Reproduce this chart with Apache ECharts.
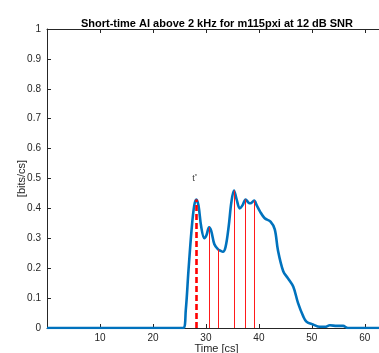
<!DOCTYPE html>
<html><head><meta charset="utf-8">
<script src="https://cdn.jsdelivr.net/npm/echarts@6/dist/echarts.min.js"></script>
<style>html,body{margin:0;padding:0;background:#fff}#c{width:379px;height:353px}</style>
</head><body><div id="c"></div>
<script>
const timeCs = [0,25.7,26.2,26.7,27.3,27.8,28.2,28.6,29.1,29.7,30.1,30.6,31.0,31.6,32.3,32.8,33.2,33.7,34.3,34.8,35.3,35.8,36.4,36.9,37.5,38.0,38.4,39.1,39.6,40.2,41.1,42.2,43.0,43.6,44.6,45.5,46.5,47.4,48.4,49.0,50.2,51.5,52.5,53.4,54.7,55.9,56.8,64];
const aiValues = [0,0,0.06,0.19,0.33,0.41,0.43,0.41,0.34,0.30,0.31,0.337,0.325,0.28,0.263,0.258,0.255,0.27,0.34,0.42,0.46,0.43,0.40,0.41,0.43,0.42,0.417,0.426,0.41,0.39,0.367,0.356,0.33,0.26,0.19,0.166,0.138,0.083,0.038,0.021,0.012,0.004,0.004,0.009,0.007,0.007,0,0];
const tStar = [28.2, 0.43];
const markerTimes = [30.6, 32.3, 35.3, 37.5, 39.05];
const markerValues = [0.337, 0.263, 0.46, 0.43, 0.426];
const tStarLabelPos = [27.9, 0.50];
const xTicks = [10,20,30,40,50,60];

const F = 'Liberation Sans, Helvetica, Arial, sans-serif';
const axisCol = '#262626';
const curve = timeCs.map((t,i)=>[t, aiValues[i]]);

const solidStyle = {color:'#ff1a1a', width:1, type:'solid', opacity:1};
const markLines = [
  [{coord:[tStar[0],0], lineStyle:{color:'#ff0000', width:2.6, type:[6,3], opacity:1}}, {coord:[tStar[0],tStar[1]]}]
].concat(markerTimes.map((t,i)=>[{coord:[t,0], lineStyle:solidStyle},{coord:[t,markerValues[i]]}]));

const chart = echarts.init(document.getElementById('c'), null, {renderer:'canvas'});
chart.setOption({
  animation:false,
  title:{text:'Short-time AI above 2 kHz for m115pxi at 12 dB SNR', left:212, top:13, textAlign:'center',
    textStyle:{fontFamily:F, fontSize:11, fontWeight:'bold', color:'#000'}},
  grid:{left:47, top:29, width:339, height:299, outerBoundsMode:'none', containLabel:false},
  xAxis:[{
    type:'value', min:0, max:64, interval:10, position:'bottom',
    name:'Time [cs]', nameLocation:'middle', nameGap:15, nameMoveOverlap:false,
    nameTextStyle:{fontFamily:F, fontSize:11, color:axisCol},
    axisLine:{show:true, lineStyle:{color:axisCol, width:1}},
    axisTick:{show:true, inside:true, length:4, lineStyle:{color:axisCol}},
    axisLabel:{fontFamily:F, fontSize:10, color:axisCol, margin:5, showMinLabel:false, showMaxLabel:false,
      formatter:v=>xTicks.includes(v)?String(v):''},
    splitLine:{show:false}
  },{
    type:'value', min:0, max:64, interval:10, position:'top',
    axisLine:{show:true, lineStyle:{color:axisCol, width:1}},
    axisTick:{show:true, inside:true, length:4, lineStyle:{color:axisCol}},
    axisLabel:{show:false}, splitLine:{show:false}
  }],
  yAxis:{
    type:'value', min:0, max:1, interval:0.1,
    name:'[bits/cs]', nameLocation:'middle', nameGap:20, nameRotate:90, nameMoveOverlap:false,
    nameTextStyle:{fontFamily:F, fontSize:11, color:axisCol},
    axisLine:{show:true, lineStyle:{color:axisCol, width:1}},
    axisTick:{show:true, inside:true, length:4, lineStyle:{color:axisCol}},
    axisLabel:{fontFamily:F, fontSize:10, color:axisCol, margin:6,
      formatter:v=>String(Math.round(v*10)/10)},
    splitLine:{show:false}
  },
  series:[{
    type:'line', data:curve, smooth:0.35, symbol:'none', z:3,
    lineStyle:{color:'#0072BD', width:2.6},
    markLine:{silent:true, symbol:['none','none'], label:{show:false}, animation:false,
      lineStyle:solidStyle, emphasis:{disabled:true}, data:markLines, z:4}
  },{
    type:'scatter', data:[tStarLabelPos], symbolSize:0, z:5,
    label:{show:true, position:'inside', formatter:'{a|t}{b|*}',
      rich:{a:{fontFamily:F, fontSize:9, color:'#000'}, b:{fontFamily:F, fontSize:6, color:'#000', verticalAlign:'top', padding:[0,0,4,0]}}}
  }]
});
</script></body></html>
